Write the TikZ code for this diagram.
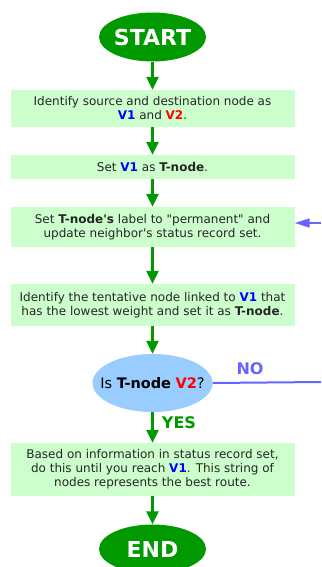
\documentclass[tikz,border=0pt]{standalone}
\usepackage{fontspec}
\setmainfont{DejaVu Sans}
\usetikzlibrary{shapes.geometric,arrows.meta}
\definecolor{flowgreen}{HTML}{009900}
\definecolor{boxgreen}{HTML}{CCFFCC}
\definecolor{askblue}{HTML}{99CCFF}
\definecolor{loopblue}{HTML}{6666FF}
\definecolor{vone}{HTML}{0000FF}
\definecolor{vtwo}{HTML}{FF0000}
\newcommand{\vone}{\textcolor{vone}{\textbf{V1}}}
\newcommand{\vtwo}{\textcolor{vtwo}{\textbf{V2}}}

\begin{document}
\begin{tikzpicture}[x=1pt,y=-1pt,
  term/.style={ellipse,fill=flowgreen,text=white,inner xsep=-4pt,inner ysep=0pt,
    minimum width=107pt,minimum height=49pt,
    font=\fontsize{22}{26}\selectfont\bfseries},
  stepbox/.style={fill=boxgreen,inner sep=0pt,minimum width=284pt,
    align=center,text=black!85,font=\fontsize{12}{14}\selectfont},
  ask/.style={ellipse,fill=askblue,inner xsep=-14pt,inner ysep=0pt,
    minimum width=120pt,minimum height=58pt,
    font=\fontsize{14.5}{17}\selectfont},
  flow/.style={draw=flowgreen,line width=2.5pt,
    -{Triangle[width=12pt,length=13pt]}},
  back/.style={draw=loopblue,line width=2pt},
  answer/.style={font=\fontsize{16}{18}\selectfont\bfseries}
]
\useasboundingbox (0,0) rectangle (321,567);

\node[term] (start) at (152.5,37) {START};
\node[stepbox,minimum height=37pt] (s1) at (152.5,108.5)
  {Identify source and destination node as\\ \vone{} and \vtwo.};
\node[stepbox,minimum height=24pt] (s2) at (152.5,167)
  {Set \vone{} as \textbf{T-node}.};
\node[stepbox,minimum height=40pt] (s3) at (152.5,227)
  {Set \textbf{T-node\textquotesingle s} label to \textquotedbl permanent\textquotedbl{} and\\
   update neighbor\textquotesingle s status record set.};
\node[stepbox,minimum height=42pt] (s4) at (152.5,305)
  {Identify the tentative node linked to \vone{} that\\
   has the lowest weight and set it as \textbf{T-node}.};
\node[ask] (isv2) at (152.5,383) {Is \textbf{T-node} \vtwo?};
\node[stepbox,minimum height=53pt] (s5) at (152.5,469.5)
  {Based on information in status record set,\\
   do this until you reach \vone. This string of\\
   nodes represents the best route.};
\node[term] (end) at (152.5,549) {END};

\node[answer,text=flowgreen] (yes) at (179,423) {YES};
\node[answer,text=loopblue] (no) at (250,369) {NO};
\coordinate (noout) at (321,382);
\coordinate (noin) at (321,223);

\draw[flow] (start) -- (s1);
\draw[flow] (s1) -- (s2);
\draw[flow] (s2) -- (s3);
\draw[flow] (s3) -- (s4);
\draw[flow] (s4) -- (isv2);
\draw[flow] (isv2) -- (s5);
\draw[flow] (s5) -- (end);
\draw[back] (isv2.east) -- (noout);
\draw[back,-{Triangle[width=9pt,length=15pt]}] (noin) -- (s3.east |- noin);
\end{tikzpicture}
\end{document}
